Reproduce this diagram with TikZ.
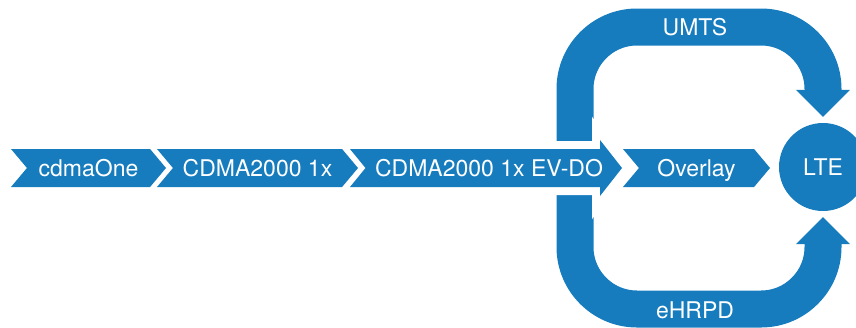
\documentclass[tikz,border=0pt]{standalone}
\usepackage{fontspec}
\setmainfont{TeX Gyre Heros}
\usepackage{tikz}
\usetikzlibrary{arrows.meta,shapes.symbols}
\definecolor{lteblue}{RGB}{22,124,190}
\tikzset{
  tagtext/.style={text=white, inner sep=0pt, text height=16.5pt, text depth=0pt, font=\fontsize{23}{27}\selectfont},
  chevron/.style={tagtext, signal, signal from=west, signal to=east, signal pointer angle=100, fill=lteblue, minimum height=38pt},
  band/.style={draw=lteblue, line width=37pt, rounded corners=62pt, -{Triangle[width=54pt,length=27pt,line width=0pt]}}
}

\begin{document}
\begin{tikzpicture}[x=1pt, y=-1pt]
    \useasboundingbox (0,0) rectangle (856,327);
    \coordinate (fork) at (575,168);
    \node[tagtext, circle, fill=lteblue, minimum size=88pt] (lte) at (823,167) {LTE};
    \draw[band] (fork) |- (823,27) -- ([yshift=6pt]lte.north);
    \draw[band] (fork) |- (823,309) -- ([yshift=-6pt]lte.south);
    \fill[lteblue, preaction={draw=white, line width=16pt}] (350,149) -- (600,149) -- (600,140) -- (622,168) -- (600,196) -- (600,187) -- (350,187) -- (365.5,168) -- cycle;
    \node[tagtext] (evdo) at (489,168) {CDMA2000 1x EV-DO};
    \node[chevron, minimum width=155pt] (cdmaone) at (88.5,168) {cdmaOne};
    \node[chevron, minimum width=201pt] (cdma1x) at (257.5,168) {CDMA2000 1x};
    \node[chevron, minimum width=147pt] (overlay) at (696.5,168) {Overlay};
    \node[tagtext] (umts) at (695,27) {UMTS};
    \node[tagtext] (ehrpd) at (695,310) {eHRPD};
\end{tikzpicture}
\end{document}
